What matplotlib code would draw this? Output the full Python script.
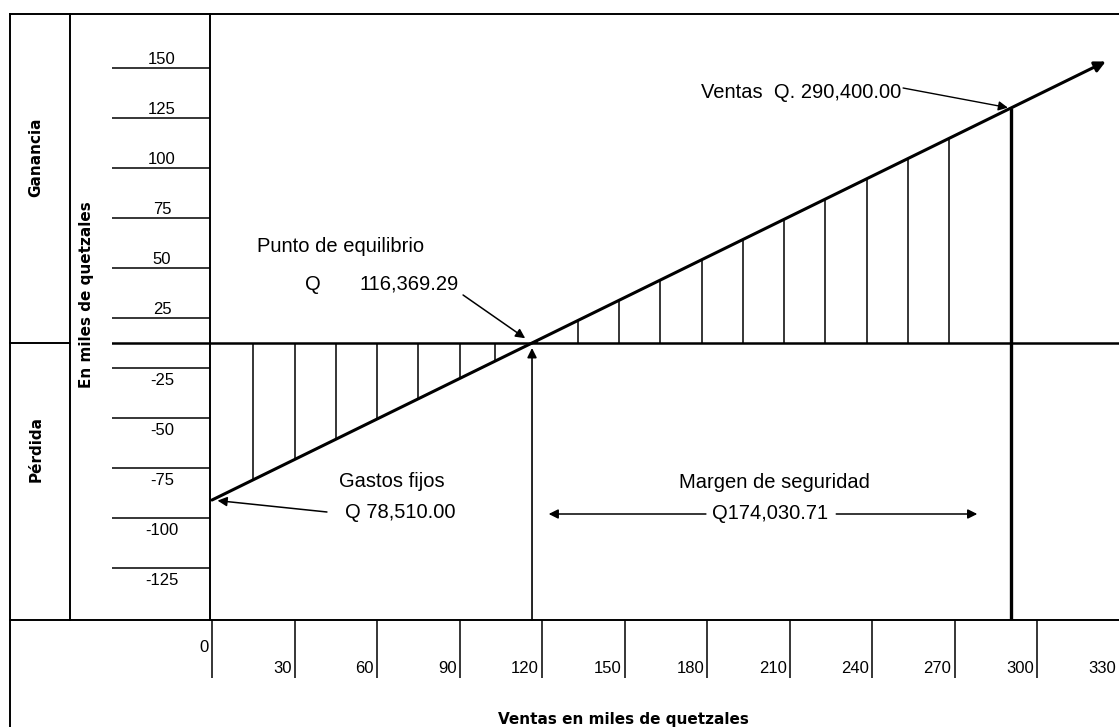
import matplotlib
matplotlib.use('Agg')
import matplotlib.pyplot as plt
import matplotlib.transforms as mtransforms
from matplotlib.lines import Line2D
import numpy as np

# Datos en miles de quetzales
fixed_costs = 78.51
break_even = 116.36929
sales = 290.40
line_end = 325

x_ticks = [0, 30, 60, 90, 120, 150, 180, 210, 240, 270, 300, 330]
y_ticks = [150, 125, 100, 75, 50, 25, -25, -50, -75, -100, -125]
hatch_x = [15, 30, 45, 60, 75, 90, 103, 118, 133, 148, 163, 178, 193, 208,
           223, 238, 253, 268]

plt.rcParams['font.family'] = ['Liberation Sans', 'DejaVu Sans']

W, H = 1119, 727
fig = plt.figure(figsize=(W / 100, H / 100), dpi=100)


def box(l, t, r, b):
    # pixel box -> figure fractions
    return [l / W, 1 - b / H, (r - l) / W, (b - t) / H]


def rule(x0, y0, x1, y1, lw=1.4):
    fig.add_artist(Line2D([x0 / W, x1 / W], [1 - y0 / H, 1 - y1 / H],
                          transform=fig.transFigure, color='k', lw=lw))


def profit(x):
    return fixed_costs * (np.asarray(x) / break_even - 1)


# main plot area
ax = fig.add_axes(box(210, 14, 1119, 620))
ax.set_xlim(-2 / 2.75, 907 / 2.75)
ax.set_ylim(-138.5, 164.5)
ax.axis('off')

# y column with its rules
ay = fig.add_axes(box(112, 14, 210, 620))
ay.set_xlim(0, 1)
ay.set_ylim(ax.get_ylim())
ay.axis('off')

# x strip under the plot
axx = fig.add_axes(box(210, 620, 1119, 678))
axx.set_xlim(ax.get_xlim())
axx.set_ylim(0, 1)
axx.axis('off')

# frame
rule(10, 14, 1119, 14)
rule(10, 14, 10, 727)
rule(70, 14, 70, 620)
rule(10, 343, 70, 343)
rule(10, 620, 1119, 620)
rule(210, 14, 210, 620)

# zero line
ax.axhline(0, color='k', lw=1.8)
ay.axhline(0, color='k', lw=1.8)

# y rules and labels (rule drawn half a step toward zero)
for v in y_ticks:
    pos = v - np.sign(v) * 12.5
    ay.hlines(pos, 0, 1, color='k', lw=1.1)
    if v > 0:
        ay.text(0.51, pos + 2, str(v), ha='center', va='baseline', fontsize=12)
    else:
        ay.text(0.51, pos - 2.5, str(v), ha='center', va='top', fontsize=12)

# x ticks
axx.vlines(x_ticks, 0, 1, color='k', lw=1.1)
lab_tr = mtransforms.offset_copy(axx.transData, fig=fig, x=-3, y=0, units='dots')
for t in x_ticks:
    ty = 0.52 if t == 0 else 0.17
    axx.text(t, ty, str(t), ha='right', va='center', fontsize=12, transform=lab_tr)

# hatching between zero line and the result line
ax.vlines(hatch_x, 0, profit(hatch_x), color='k', lw=1.1)

# result line
ax.annotate('', xy=(line_end, profit(line_end)), xytext=(0, -fixed_costs),
            arrowprops=dict(arrowstyle='-|>', color='k', lw=2.2,
                            mutation_scale=16, shrinkA=0, shrinkB=0))

# sales line
ax.vlines(sales, ax.get_ylim()[0], profit(sales), color='k', lw=2.4)

# break-even vertical arrow
ax.annotate('', xy=(break_even, -2.5), xytext=(break_even, ax.get_ylim()[0]),
            arrowprops=dict(arrowstyle='-|>', color='k', lw=1.2,
                            mutation_scale=14, shrinkA=0, shrinkB=0))

fs = 14.5
# punto de equilibrio
ax.text(16.4, 45.5, 'Punto de equilibrio', fontsize=fs, va='baseline')
ax.text(33.8, 26.5, 'Q', fontsize=fs, va='baseline')
ax.text(53.5, 26.5, '116,369.29', fontsize=fs, va='baseline')
ax.annotate('', xy=(break_even, 0), xytext=(91.3, 24),
            arrowprops=dict(arrowstyle='-|>', color='k', lw=1.1,
                            mutation_scale=14, shrinkA=0, shrinkB=6))

# ventas
ax.text(250.5, 122.5, 'Ventas  Q. 290,400.00', fontsize=fs, ha='right', va='baseline')
ax.annotate('', xy=(sales, profit(sales)), xytext=(251.3, 127.5),
            arrowprops=dict(arrowstyle='-|>', color='k', lw=1.0,
                            mutation_scale=14, shrinkA=0, shrinkB=2))

# gastos fijos
ax.text(65.5, -72, 'Gastos fijos', fontsize=fs, ha='center', va='baseline')
ax.text(68.4, -87.5, 'Q 78,510.00', fontsize=fs, ha='center', va='baseline')
ax.annotate('', xy=(0, -fixed_costs), xytext=(41.8, -84.5),
            arrowprops=dict(arrowstyle='-|>', color='k', lw=1.1,
                            mutation_scale=14, shrinkA=0, shrinkB=4))

# margen de seguridad
ax.text(204.7, -72.5, 'Margen de seguridad', fontsize=fs, ha='center', va='baseline')
ax.text(203, -88, 'Q174,030.71', fontsize=fs, ha='center', va='baseline')
ax.annotate('', xy=(break_even, -85.5), xytext=(179.6, -85.5),
            arrowprops=dict(arrowstyle='-|>', color='k', lw=1.1,
                            mutation_scale=14, shrinkA=0, shrinkB=12))
ax.annotate('', xy=(sales, -85.5), xytext=(227, -85.5),
            arrowprops=dict(arrowstyle='-|>', color='k', lw=1.1,
                            mutation_scale=14, shrinkA=0, shrinkB=24))

# side labels
bold = dict(family='DejaVu Sans', fontweight='bold', fontsize=11)
fig.text(36 / W, 1 - 157 / H, 'Ganancia', rotation=90, ha='center', va='center', **bold)
fig.text(36 / W, 1 - 449 / H, 'Pérdida', rotation=90, ha='center', va='center', **bold)
fig.text(86 / W, 1 - 295 / H, 'En miles de quetzales', rotation=90,
         ha='center', va='center', **bold)
fig.text(623 / W, 1 - 724 / H, 'Ventas en miles de quetzales', ha='center',
         va='baseline', **bold)

plt.savefig('out.png', dpi=100)
